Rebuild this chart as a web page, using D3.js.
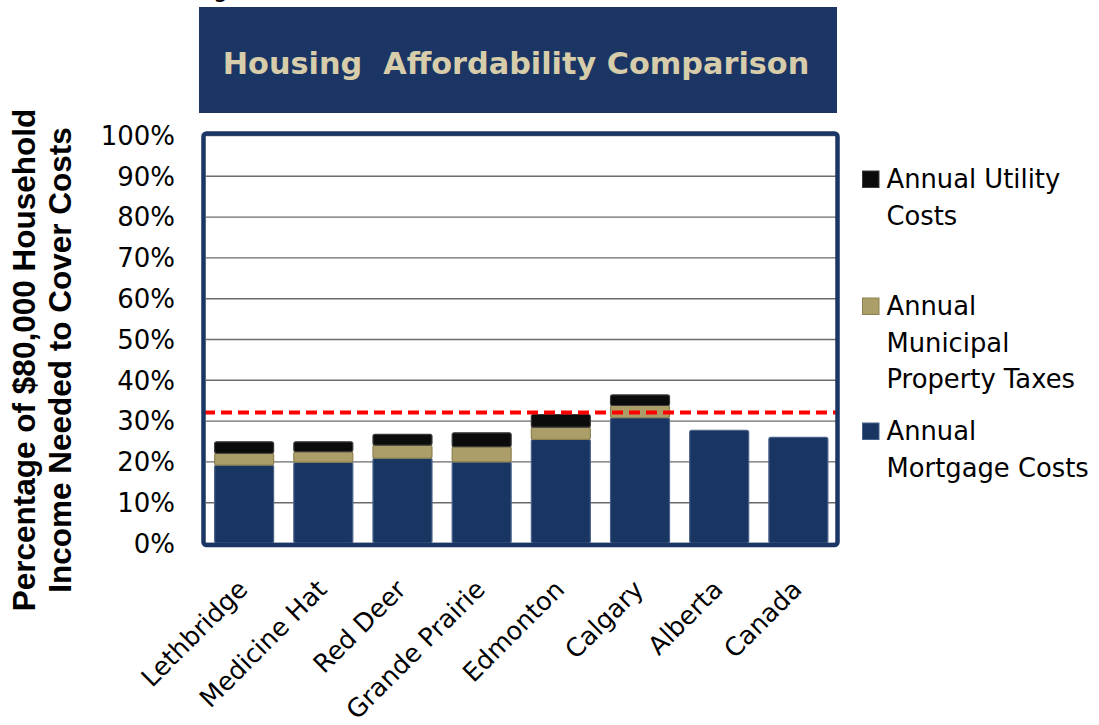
<!DOCTYPE html>
<html>
<head>
<meta charset="utf-8">
<script src="https://cdn.jsdelivr.net/npm/d3@7"></script>
<style>
  html, body { margin: 0; padding: 0; background: #fff; }
  svg { display: block; }
</style>
</head>
<body>
<div id="chart"></div>
<script>
const categories = ["Lethbridge", "Medicine Hat", "Red Deer", "Grande Prairie", "Edmonton", "Calgary", "Alberta", "Canada"];
const mortgage = [19.1, 19.8, 20.8, 19.9, 25.4, 30.7, 27.6, 25.9];
const taxes = [2.9, 2.6, 3.2, 3.7, 3.0, 3.0, 0, 0];
const utility = [2.8, 2.4, 2.6, 3.4, 3.1, 2.6, 0, 0];
const yTicks = [0, 10, 20, 30, 40, 50, 60, 70, 80, 90, 100];
const threshold = 32;
const seriesNames = ["Annual Mortgage Costs", "Annual Municipal Property Taxes", "Annual Utility Costs"];

const width = 1099, height = 725;
const navy = "#1b3664";
const sans = "'DejaVu Sans', Verdana, sans-serif";

const svg = d3.select("#chart").append("svg")
    .attr("width", width)
    .attr("height", height);

// fragment of a line sitting above the cropped area
svg.append("text")
    .attr("x", 213)
    .attr("y", -3)
    .style("font-family", sans)
    .style("font-size", "24px")
    .text("g");

// title banner
svg.append("rect")
    .attr("x", 199).attr("y", 7)
    .attr("width", 638).attr("height", 106)
    .attr("fill", navy);

svg.append("text")
    .attr("x", 516).attr("y", 74)
    .attr("text-anchor", "middle")
    .style("font-family", sans)
    .style("font-size", "30.3px")
    .style("font-weight", "bold")
    .style("fill", "#d7cdaa")
    .style("white-space", "pre")
    .text("Housing  Affordability Comparison");

const x = d3.scaleBand()
    .domain(categories)
    .range([204.5, 838])
    .paddingInner(0.255)
    .paddingOuter(0.128);

const y = d3.scaleLinear()
    .domain([0, 100])
    .range([543, 135]);

// gridlines
svg.append("g")
    .attr("transform", "translate(206,0)")
    .call(d3.axisLeft(y).tickValues(yTicks).tickSize(-630).tickFormat(""))
    .call(g => g.select(".domain").remove())
    .call(g => g.selectAll(".tick line")
        .attr("stroke", "#6b6b6b")
        .attr("stroke-width", 1.4));

// y tick labels
svg.append("g")
    .attr("transform", "translate(175,0)")
    .call(d3.axisLeft(y).tickValues(yTicks).tickSize(0).tickPadding(0).tickFormat(d => d + "%"))
    .call(g => g.select(".domain").remove())
    .call(g => g.selectAll(".tick text")
        .attr("dy", "0.36em")
        .style("font-family", sans)
        .style("font-size", "26px")
        .style("fill", "#000"));

// y axis title
const yTitle = svg.append("text")
    .attr("transform", "translate(0,360) rotate(-90)")
    .attr("text-anchor", "middle")
    .style("font-family", "'Liberation Sans', Arial, sans-serif")
    .style("font-size", "31.5px")
    .style("font-weight", "bold")
    .style("fill", "#000");
yTitle.append("tspan").attr("x", 0).attr("y", 35).text("Percentage of $80,000 Household");
yTitle.append("tspan").attr("x", 0).attr("y", 71).text("Income Needed to Cover Costs");

// stacked bars
const table = categories.map((c, i) => ({
    name: c,
    "Annual Mortgage Costs": mortgage[i],
    "Annual Municipal Property Taxes": taxes[i],
    "Annual Utility Costs": utility[i]
}));
const stacked = d3.stack().keys(seriesNames)(table);

const fills = {
    "Annual Mortgage Costs": "#193663",
    "Annual Municipal Property Taxes": "#ab9e69",
    "Annual Utility Costs": "#0b0b0b"
};
const edges = {
    "Annual Mortgage Costs": "#4a628a",
    "Annual Municipal Property Taxes": "#8e8250",
    "Annual Utility Costs": "#3a3a3a"
};

svg.append("g")
    .selectAll("g")
    .data(stacked)
    .join("g")
    .attr("fill", d => fills[d.key])
    .attr("stroke", d => edges[d.key])
    .attr("stroke-width", 1.2)
    .selectAll("rect")
    .data(d => d.filter(p => p[1] - p[0] > 0))
    .join("rect")
    .attr("x", d => x(d.data.name))
    .attr("y", d => y(d[1]))
    .attr("width", x.bandwidth())
    .attr("height", d => y(d[0]) - y(d[1]))
    .attr("rx", 2);

// threshold line
svg.append("line")
    .attr("x1", 204).attr("x2", 838)
    .attr("y1", y(threshold)).attr("y2", y(threshold))
    .attr("stroke", "#ff0000")
    .attr("stroke-width", 4)
    .attr("stroke-dasharray", "11,6");

// plot frame
svg.append("rect")
    .attr("x", 203.5).attr("y", 133.5)
    .attr("width", 634).attr("height", 411.5)
    .attr("rx", 3)
    .attr("fill", "none")
    .attr("stroke", navy)
    .attr("stroke-width", 4.5);

// x labels
svg.append("g")
    .attr("transform", "translate(0,546)")
    .call(d3.axisBottom(x).tickSize(0).tickPadding(0))
    .call(g => g.select(".domain").remove())
    .call(g => g.selectAll(".tick text")
        .attr("text-anchor", "end")
        .attr("transform", "translate(5,45) rotate(-45)")
        .attr("dy", 0)
        .attr("y", 0)
        .style("font-family", sans)
        .style("font-size", "25.5px")
        .style("fill", "#000"));

// legend
const legendItems = [
    { key: "Annual Utility Costs", lines: ["Annual Utility", "Costs"], top: 188 },
    { key: "Annual Municipal Property Taxes", lines: ["Annual", "Municipal", "Property Taxes"], top: 315 },
    { key: "Annual Mortgage Costs", lines: ["Annual", "Mortgage Costs"], top: 440 }
];

const legend = svg.append("g");
const li = legend.selectAll("g")
    .data(legendItems)
    .join("g")
    .attr("transform", d => `translate(862, ${d.top})`);

li.append("rect")
    .attr("x", 0.5).attr("y", -17)
    .attr("width", 16.5).attr("height", 16.5)
    .attr("fill", d => fills[d.key])
    .attr("stroke", d => edges[d.key])
    .attr("stroke-width", 1);

li.append("text")
    .style("font-family", sans)
    .style("font-size", "25.8px")
    .style("fill", "#000")
    .selectAll("tspan")
    .data(d => d.lines)
    .join("tspan")
    .attr("x", 24.5)
    .attr("y", (d, i) => i * 36.5)
    .text(d => d);
</script>
</body>
</html>
